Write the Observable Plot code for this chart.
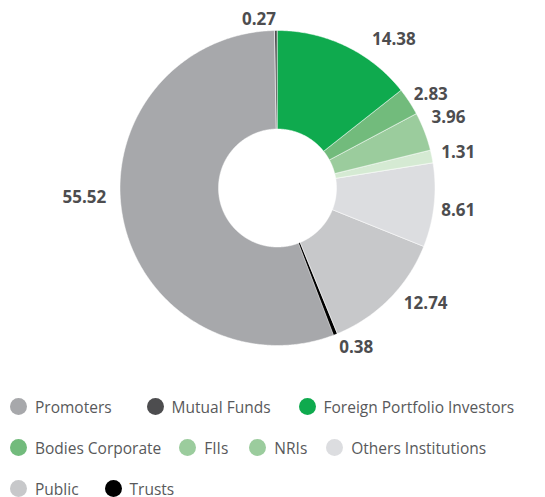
<!DOCTYPE html>
<html><head><meta charset="utf-8">
<script src="https://cdn.jsdelivr.net/npm/d3@7"></script>
<script src="https://cdn.jsdelivr.net/npm/@observablehq/plot@0.6"></script>
<style>
body{margin:0;background:#fff;font-family:"Open Sans",sans-serif;}
#chart svg{display:block;}
#legend{display:flex;flex-wrap:wrap;width:545px;padding-left:10px;box-sizing:border-box;}
.item{display:flex;align-items:center;height:41px;font-size:15.5px;color:#58595b;white-space:nowrap;}
.sw{width:17px;height:17px;border-radius:50%;margin-right:8px;flex:none;}
</style></head><body>
<div id="chart"></div>
<div id="legend"></div>
<script>
const categories = ["Promoters","Mutual Funds","Foreign Portfolio Investors","Bodies Corporate","FIIs","NRIs","Others Institutions","Public","Trusts"];
const values = [55.52, 0.27, 14.38, 2.83, 3.96, 1.31, 8.61, 12.74, 0.38];
const sliceColors = ["#a7a8ab","#4d4d4f","#0faa4e","#72bb7c","#9bcc9d","#d5ead3","#dcdde0","#c7c8ca","#000000"];
const legendColors = ["#a7a8ab","#4d4d4f","#0faa4e","#72bb7c","#9bcc9d","#9bcc9d","#dcdde0","#c7c8ca","#000000"];
// label nudges (px) relative to outside-end placement
const labelNudge = [[-10,-23],[-17,2.5],[35,5],[1,0],[1,-9.6],[2.5,-1.7],[0,3.4],[16,-5],[12,1]];
// spacing (px) after each legend item
const legendGap = [35, 28, 0, 18, 21, 19, 0, 26, 0];

const W = 545, H = 386;
const R = 157.5, r0 = 59;
const total = d3.sum(values);
const start = -(values[0] + values[1]) / total * 2 * Math.PI;
let acc = start;
const slices = values.map((v, i) => {
  const a0 = acc, a1 = acc + v / total * 2 * Math.PI; acc = a1;
  return {i, a0, a1};
});
const pt = (r, a) => [r * Math.sin(a), -r * Math.cos(a)];
const features = slices.map(s => {
  const n = Math.max(2, Math.ceil((s.a1 - s.a0) / (Math.PI / 360)));
  const outer = d3.range(n + 1).map(k => pt(R, s.a0 + (s.a1 - s.a0) * k / n));
  const inner = d3.range(n + 1).map(k => pt(r0, s.a1 - (s.a1 - s.a0) * k / n));
  return {type: "Feature", properties: {name: categories[s.i], color: sliceColors[s.i]},
    geometry: {type: "Polygon", coordinates: [[...outer, ...inner, outer[0]]]}};
});
const labels = slices.map(s => {
  const t = values[s.i].toFixed(2);
  const m = (s.a0 + s.a1) / 2;
  const halfW = t.length * 4.6, halfH = 7;
  const [px, py] = pt(R + 6, m);
  return {t, x: px + Math.sin(m) * halfW + labelNudge[s.i][0], y: py - Math.cos(m) * halfH + labelNudge[s.i][1]};
});

const chart = Plot.plot({
  width: W, height: H,
  marginLeft: 119.5, marginRight: W - 119.5 - 2 * R, marginTop: 30, marginBottom: H - 30 - 2 * R,
  projection: {type: "identity", domain: {type: "MultiPoint", coordinates: [[-R, -R], [R, R]]}, clip: false},
  marks: [
    Plot.geo(features, {fill: d => d.properties.color, stroke: "#fff", strokeWidth: 0.5, title: d => d.properties.name}),
    Plot.text(labels, {x: "x", y: "y", text: "t", fontSize: 17, fontWeight: "bold", fill: "#4d4d4f", fontFamily: "Open Sans"})
  ],
  style: {fontFamily: "Open Sans", background: "#fff"}
});
document.getElementById("chart").appendChild(chart);

const legend = document.getElementById("legend");
categories.forEach((c, i) => {
  const it = document.createElement("div"); it.className = "item";
  it.style.marginRight = legendGap[i] + "px";
  const sw = document.createElement("span"); sw.className = "sw"; sw.style.background = legendColors[i];
  const tx = document.createElement("span"); tx.textContent = c;
  it.appendChild(sw); it.appendChild(tx); legend.appendChild(it);
});
</script>
</body></html>
